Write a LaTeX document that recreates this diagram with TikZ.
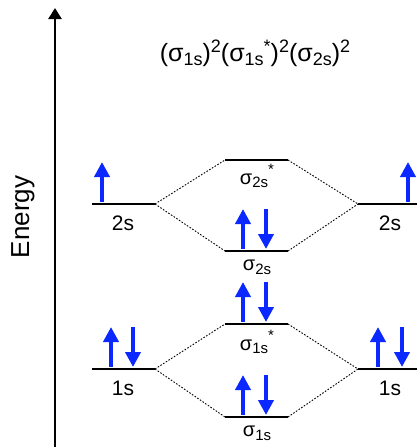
\documentclass[tikz,border=0pt]{standalone}
\usepackage{fontspec}
\setmainfont{Liberation Sans}
\usetikzlibrary{arrows.meta}
\definecolor{eblue}{RGB}{10,40,255}
\newcommand\mosub[1]{\raisebox{-0.35ex}{\fontsize{15}{15}\selectfont #1}}
\newcommand\mosup[1]{\raisebox{0.95ex}{\fontsize{15}{15}\selectfont #1}}
\newcommand\fsub[1]{\raisebox{-0.3ex}{\fontsize{18}{18}\selectfont #1}}
\newcommand\fsup[1]{\raisebox{0.7ex}{\fontsize{18}{18}\selectfont #1}}
\begin{document}
\begin{tikzpicture}[x=1pt,y=-1pt,
  level/.style={line width=2.6pt},
  link/.style={line width=0.9pt, dash pattern=on 1.6pt off 1.6pt},
  eup/.style={eblue, line width=4.2pt, -{Triangle[width=15pt,length=15pt]}},
  axisline/.style={line width=2.5pt, -{Triangle[width=13pt,length=11pt]}},
  lab/.style={font=\fontsize{21}{24}\selectfont, inner sep=0pt},
  molab/.style={font=\fontsize{20}{24}\selectfont, inner sep=0pt}]
\useasboundingbox (0,0) rectangle (417,447);
% axis
\coordinate (axB) at (55,447);
\coordinate (axT) at (55,8);
\draw[axisline] (axB) -- (axT);
\node[lab, font=\fontsize{26}{30}\selectfont, rotate=90] (energy) at (23,217) {Energy};
% formula
\node[lab, font=\fontsize{25}{28}\selectfont] (formula) at (255,53) {(σ\fsub{1s})\fsup{2}(σ\fsub{1s}\fsup{*})\fsup{2}(σ\fsub{2s})\fsup{2}};
% level endpoints
\coordinate (a2L) at (92,204);  \coordinate (a2R) at (155,204);
\coordinate (b2L) at (358,204); \coordinate (b2R) at (417,204);
\coordinate (s2sL) at (225,160); \coordinate (s2sR) at (288,160);
\coordinate (t2L) at (225,251); \coordinate (t2R) at (288,251);
\coordinate (s1sL) at (225,324); \coordinate (s1sR) at (288,324);
\coordinate (a1L) at (92,369);  \coordinate (a1R) at (155,369);
\coordinate (b1L) at (358,369); \coordinate (b1R) at (417,369);
\coordinate (t1L) at (225,417); \coordinate (t1R) at (288,417);
% levels
\foreach \p in {a2,b2,s2s,t2,s1s,a1,b1,t1} \draw[level] (\p L) -- (\p R);
% dotted correlation lines
\draw[link] (a2R) -- (s2sL);
\draw[link] (a2R) -- (t2L);
\draw[link] (s2sR) -- (b2L);
\draw[link] (t2R) -- (b2L);
\draw[link] (a1R) -- (s1sL);
\draw[link] (a1R) -- (t1L);
\draw[link] (s1sR) -- (b1L);
\draw[link] (t1R) -- (b1L);
% electrons
\draw[eup] (102,202) -- ++(0,-40);
\draw[eup] (408,202) -- ++(0,-40);
\draw[eup] (243,249) -- ++(0,-40);
\draw[eup] (266,209) -- ++(0,40);
\draw[eup] (243,322) -- ++(0,-40);
\draw[eup] (266,282) -- ++(0,40);
\draw[eup] (111,367) -- ++(0,-40);
\draw[eup] (133,327) -- ++(0,40);
\draw[eup] (378,367) -- ++(0,-40);
\draw[eup] (402,327) -- ++(0,40);
\draw[eup] (243,415) -- ++(0,-40);
\draw[eup] (266,375) -- ++(0,40);
% labels
\node[lab] (l2a) at (123,223) {2s};
\node[lab] (l2b) at (390,223) {2s};
\node[lab] (l1a) at (123,388) {1s};
\node[lab] (l1b) at (390,388) {1s};
\node[molab] (ls2s) at (257,176) {σ\mosub{2s}\mosup{*}};
\node[molab] (lt2) at (257,267) {σ\mosub{2s}};
\node[molab] (ls1s) at (257,342) {σ\mosub{1s}\mosup{*}};
\node[molab] (lt1) at (257,433) {σ\mosub{1s}};
\end{tikzpicture}
\end{document}
